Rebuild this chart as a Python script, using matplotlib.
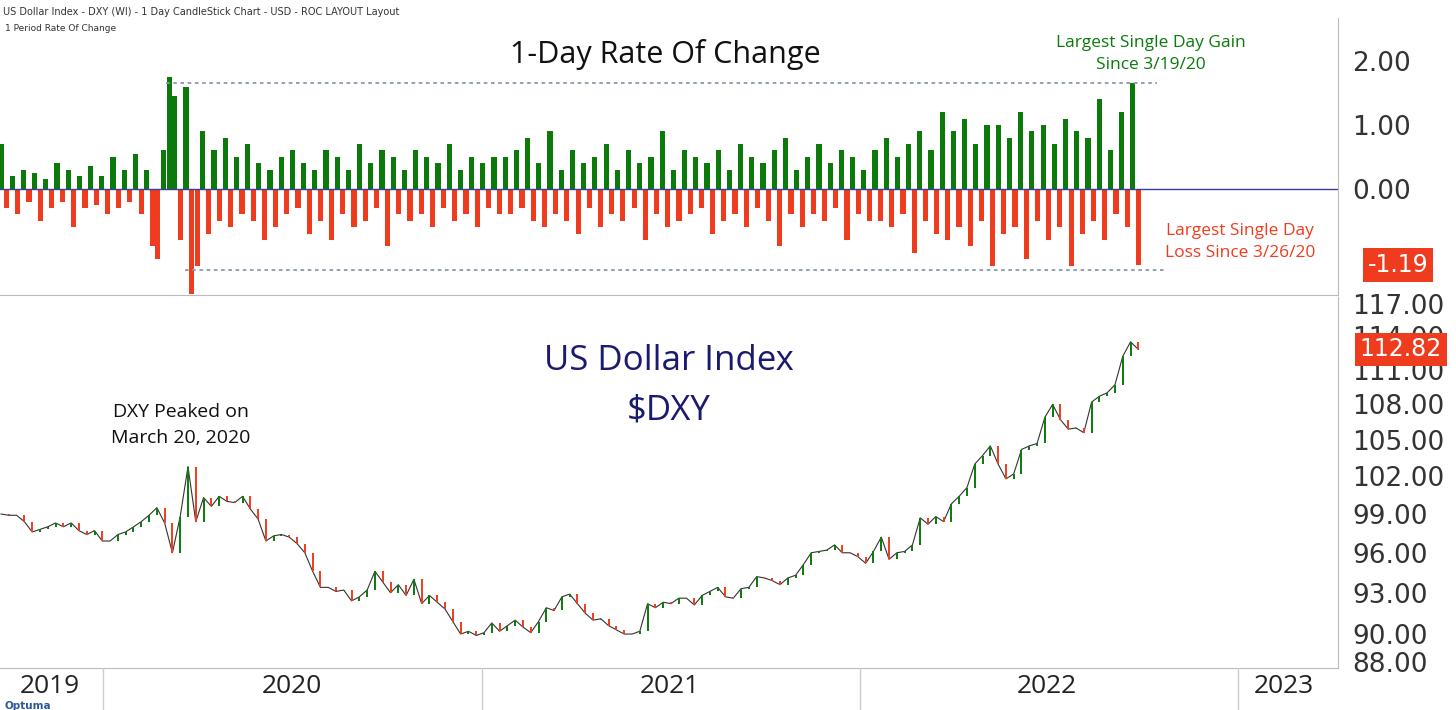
import matplotlib
matplotlib.use("Agg")
import matplotlib.pyplot as plt
import numpy as np
import pandas as pd

price = [99.0, 98.9,
 98.9, 98.4, 97.6, 97.8, 98.0, 98.3, 98.0, 98.3, 97.7, 97.4, 97.7, 96.9,
 96.9, 97.4, 97.6, 98.0, 98.4, 98.9, 99.5, 98.3, 96.0, 98.8, 102.8, 98.4,
 100.3, 99.6, 100.4, 100.0, 99.9, 100.4, 99.4, 98.6, 96.9, 97.3, 97.4, 97.2,
 96.7, 96.0, 94.6, 93.4, 93.4, 93.1, 93.2, 92.4, 92.7, 93.2, 94.6, 93.8,
 93.0, 93.6, 92.8, 94.0, 92.2, 92.8, 92.3, 91.8, 90.9, 90.0, 90.2, 89.9,
 90.1, 90.8, 90.2, 90.6, 91.0, 90.5, 90.1, 90.9, 91.9, 91.7, 92.7, 92.9,
 92.2, 91.5, 91.0, 91.1, 90.6, 90.3, 90.0, 90.0, 90.2, 92.2, 91.9, 92.3,
 92.2, 92.6, 92.6, 92.1, 92.8, 93.1, 93.4, 92.7, 92.6, 93.3, 93.4, 94.2,
 94.1, 93.9, 93.6, 94.1, 94.3, 95.1, 96.0, 96.1, 96.2, 96.6, 96.0, 96.0,
 95.7, 95.2, 96.1, 97.2, 95.5, 96.0, 96.1, 96.6, 98.7, 98.2, 98.8, 98.4,
 99.8, 100.4, 101.1, 103.0, 103.7, 104.5, 103.0, 101.8, 102.2, 104.2, 104.5, 104.7,
 106.9, 108.0, 106.7, 105.9, 106.0, 105.6, 108.2, 108.7, 109.0, 109.7, 112.2, 113.5, 112.82]

roc = [0.7,-0.3,0.2,-0.4,0.3,-0.2,0.25,-0.5,0.15,-0.3,0.4,-0.2,0.3,-0.6,0.2,-0.3,0.35,-0.25,0.2,-0.4,0.5,-0.3,0.3,-0.2,0.55,-0.4,0.3,-0.9,-1.1,0.6,
 1.75,1.45,-0.8,1.6,-1.65,-1.2,0.9,-0.7,0.6,-0.5,
 0.8,-0.6,0.5,-0.4,0.7,-0.5,0.4,-0.8,0.3,-0.6,0.5,-0.4,0.6,-0.3,0.4,-0.7,0.3,-0.5,0.6,-0.8,0.5,-0.4,0.3,-0.6,0.7,-0.5,0.4,-0.3,0.6,-0.9,0.5,-0.4,0.3,-0.5,0.6,-0.4,0.5,-0.6,0.4,-0.3,0.7,-0.5,0.3,-0.4,0.5,-0.6,0.4,-0.3,0.5,-0.4,
 0.5,-0.4,0.6,-0.3,0.8,-0.5,0.4,-0.6,0.9,-0.4,0.3,-0.5,0.6,-0.7,0.4,-0.3,0.5,-0.6,0.7,-0.4,0.3,-0.5,0.6,-0.3,0.4,-0.8,0.5,-0.4,0.9,-0.6,0.3,-0.5,0.6,-0.4,0.5,-0.3,0.4,-0.7,0.6,-0.5,0.3,-0.4,0.7,-0.6,0.5,-0.3,0.4,-0.5,0.6,-0.9,0.8,-0.4,0.3,-0.6,0.5,-0.4,0.7,-0.5,0.4,-0.3,0.6,-0.8,0.5,-0.4,0.3,-0.5,
 0.6,-0.5,0.8,-0.6,0.5,-0.4,0.7,-1.0,0.9,-0.5,0.6,-0.7,1.2,-0.8,0.9,-0.6,1.1,-0.9,0.7,-0.5,1.0,-1.2,1.0,-0.7,0.8,-0.6,1.2,-1.1,0.9,-0.5,1.0,-0.8,0.7,-0.6,1.1,-1.2,0.9,-0.7,0.8,-0.5,1.4,-0.8,0.6,-0.4,1.2,-0.6,1.65,-1.19]

roc_ticks = [0.0, 1.0, 2.0]
price_ticks = [88, 90, 93, 96, 99, 102, 105, 108, 111, 114, 117]
years = ["2019", "2020", "2021", "2022", "2023"]

start = pd.Timestamp("2019-09-24")
end_data = pd.Timestamp("2022-09-27")
pdates = pd.date_range(start, end_data, periods=len(price))
rdates = pd.date_range(start, end_data, periods=len(roc))
xl = (pd.Timestamp("2019-09-23"), pd.Timestamp("2023-04-08"))

GREEN = "#0b7a0b"; RED = "#f03c1e"; NAVY = "#1a1a6e"
fig = plt.figure(figsize=(14.56, 7.1), dpi=100)

# top panel
ax1 = fig.add_axes([0.0, 0.5845, 0.919, 0.39])
cols = [GREEN if v >= 0 else RED for v in roc]
w = (rdates[1] - rdates[0]).days * 1.0
ax1.bar(rdates, roc, width=w, color=cols, linewidth=0)
ax1.axhline(0, color="#3a3aa0", lw=1)
ax1.set_ylim(-1.66, 2.67)
ax1.set_xlim(*xl)
ax1.yaxis.tick_right()
ax1.set_yticks(roc_ticks)
ax1.set_yticklabels([f"{t:.2f}" for t in roc_ticks], fontsize=19, color="#333")
ax1.tick_params(axis="y", length=0, pad=10)
ax1.set_xticks([])
ax1.hlines(1.65, pd.Timestamp("2020-03-01"), pd.Timestamp("2022-10-15"), colors="#8a9aaa", linestyles=(0, (2, 2)), lw=1.3)
ax1.hlines(-1.27, pd.Timestamp("2020-03-20"), pd.Timestamp("2022-10-25"), colors="#8a9aaa", linestyles=(0, (2, 2)), lw=1.3)
ax1.text(0.497, 0.87, "1-Day Rate Of Change", transform=ax1.transAxes, ha="center", va="center", fontsize=22, family="Open Sans", color="#111")
ax1.text(0.86, 0.87, "Largest Single Day Gain\nSince 3/19/20", transform=ax1.transAxes, ha="center", va="center", fontsize=12.5, family="Open Sans", color=GREEN, linespacing=1.5)
ax1.text(0.927, 0.19, "Largest Single Day\nLoss Since 3/26/20", transform=ax1.transAxes, ha="center", va="center", fontsize=12.5, family="Open Sans", color=RED, linespacing=1.5)
ax1.text(1.045, -1.19, "-1.19", transform=ax1.get_yaxis_transform(), ha="center", va="center", fontsize=17, color="white", bbox=dict(boxstyle="square,pad=0.2", fc=RED, ec="none"))
ax1.text(0.004, 0.98, "1 Period Rate Of Change", transform=ax1.transAxes, fontsize=6.5, va="top", color="#333")
for s in ["top", "left"]:
    ax1.spines[s].set_visible(False)
ax1.spines["right"].set_color("#bbb"); ax1.spines["bottom"].set_color("#bbb")

# bottom panel
ax2 = fig.add_axes([0.0, 0.059, 0.919, 0.5225])
ax2.set_yscale("log")
ax2.plot(pdates, price, color="#333", lw=0.8)
for i in range(1, len(price)):
    c = GREEN if price[i] >= price[i-1] else RED
    ax2.vlines(pdates[i], min(price[i], price[i-1]), max(price[i], price[i-1]), colors=c, lw=1.4)
ax2.set_ylim(87.6, 117.6)
ax2.set_xlim(*xl)
ax2.yaxis.tick_right()
ax2.set_yticks(price_ticks)
ax2.yaxis.set_minor_locator(matplotlib.ticker.NullLocator())
ax2.set_yticklabels([f"{t:.2f}" for t in price_ticks], fontsize=19, color="#333")
ax2.tick_params(axis="y", length=0, pad=10)
ax2.set_xticks([])
ax2.text(0.50, 0.76, "US Dollar Index\n$DXY", transform=ax2.transAxes, ha="center", va="center", fontsize=25, family="Open Sans", color=NAVY, linespacing=1.6)
ax2.text(0.135, 0.655, "DXY Peaked on\nMarch 20, 2020", transform=ax2.transAxes, ha="center", va="center", fontsize=14, family="Open Sans", color="#111", linespacing=1.6)
ax2.text(1.047, 112.82, "112.82", transform=ax2.get_yaxis_transform(), ha="center", va="center", fontsize=17, color="white", bbox=dict(boxstyle="square,pad=0.2", fc=RED, ec="none"))
for s in ["top", "left"]:
    ax2.spines[s].set_visible(False)
ax2.spines["right"].set_color("#bbb"); ax2.spines["bottom"].set_color("#bbb")

# year band
ax3 = fig.add_axes([0.0, 0.0, 0.919, 0.059])
ax3.set_xlim(*xl); ax3.set_ylim(0, 1)
ax3.axis("off")
ycent = [pd.Timestamp("2019-11-10"), pd.Timestamp("2020-07-01"), pd.Timestamp("2021-07-01"), pd.Timestamp("2022-07-01"), pd.Timestamp("2023-02-15")]
for lbl, d in zip(years, ycent):
    ax3.text(d, 0.55, lbl, ha="center", va="center", fontsize=19, color="#222", family="Open Sans")
for y in ["2020-01-01", "2021-01-01", "2022-01-01", "2023-01-01"]:
    ax3.axvline(pd.Timestamp(y), color="#ccc", lw=1)
fig.text(0.002, 0.99, "US Dollar Index - DXY (WI) - 1 Day CandleStick Chart - USD - ROC LAYOUT Layout", fontsize=7, va="top", color="#333")
fig.text(0.003, 0.002, "Optuma", fontsize=7.5, color="#2a5a9a", weight="bold")
fig.savefig("out.png", dpi=100, facecolor="white")
